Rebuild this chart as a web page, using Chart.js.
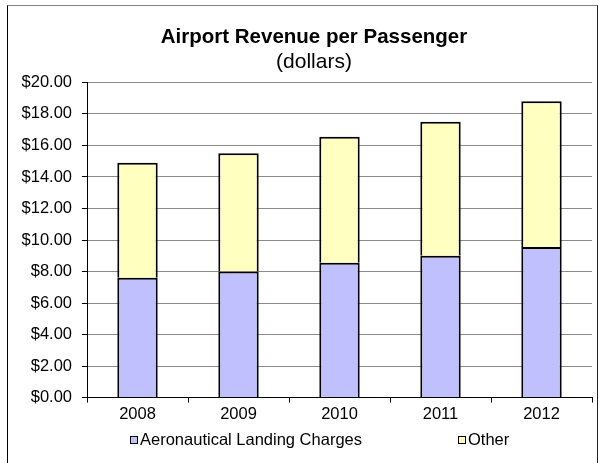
<!DOCTYPE html>
<html>
<head>
<meta charset="utf-8">
<script src="https://cdn.jsdelivr.net/npm/chart.js@4"></script>
<style>
  html, body { margin: 0; padding: 0; background: #fff; }
  #wrap { position: relative; width: 602px; height: 463px; overflow: hidden; }
  #frame { position: absolute; left: 7px; top: 5px; width: 589px; height: 470px;
           border-left: 1px solid #000; border-right: 1px solid #222; border-top: 1px solid #808080;
           pointer-events: none; }
</style>
</head>
<body>
<div id="wrap">
  <canvas id="c" width="602" height="463"></canvas>
  <div id="frame"></div>
</div>
<script>
// ---- data ----
const years = ['2008', '2009', '2010', '2011', '2012'];
const aeronautical = [7.6, 8.0, 8.55, 9.0, 9.55];
const other = [7.3, 7.5, 8.0, 8.5, 9.25];
const seriesNames = ['Aeronautical Landing Charges', 'Other'];
const yMin = 0, yMax = 20, yStep = 2;
const titleText = 'Airport Revenue per Passenger';
const subtitleText = '(dollars)';

const FONT = "'Liberation Sans', Arial, sans-serif";

// custom legend drawn at bottom like the Excel legend
const excelLegend = {
  id: 'excelLegend',
  afterDraw(chart) {
    const ctx = chart.ctx;
    const pos = [{ x: 130, y: 440 }, { x: 458, y: 440 }];
    ctx.save();
    ctx.font = '16.5px ' + FONT;
    ctx.textBaseline = 'middle';
    ctx.textAlign = 'left';
    chart.data.datasets.forEach((ds, i) => {
      const p = pos[i];
      ctx.fillStyle = ds.backgroundColor;
      ctx.fillRect(p.x, p.y - 4, 8, 8);
      ctx.strokeStyle = '#000';
      ctx.lineWidth = 1;
      ctx.strokeRect(p.x + 0.5, p.y - 3.5, 7, 7);
      ctx.fillStyle = '#000';
      ctx.fillText(ds.label, p.x + 10, p.y);
    });
    ctx.restore();
  }
};

new Chart(document.getElementById('c'), {
  type: 'bar',
  data: {
    labels: years,
    datasets: [
      { label: seriesNames[0], data: aeronautical, backgroundColor: '#C0C0FF',
        borderColor: '#000', borderWidth: 2, borderSkipped: 'start',
        barPercentage: 0.4, categoryPercentage: 1.0 },
      { label: seriesNames[1], data: other, backgroundColor: '#FFFFC0',
        borderColor: '#000', borderWidth: 2, borderSkipped: 'start',
        barPercentage: 0.4, categoryPercentage: 1.0 }
    ]
  },
  options: {
    responsive: false,
    animation: false,
    devicePixelRatio: 1,
    layout: { padding: { left: 10, right: -16, top: 0, bottom: 39.4 } },
    plugins: {
      legend: { display: false },
      tooltip: { enabled: false },
      title: {
        display: true, text: titleText, color: '#000',
        font: { family: FONT, size: 20.5, weight: 'bold' },
        padding: { top: 25, bottom: 0 }
      },
      subtitle: {
        display: true, text: subtitleText, color: '#000',
        font: { family: FONT, size: 21, weight: 'normal' },
        padding: { top: 0, bottom: 7.6 }
      }
    },
    scales: {
      x: {
        stacked: true,
        afterFit(scale) { scale.height = 26; },
        grid: { display: true, drawOnChartArea: false, drawTicks: true, tickLength: 5,
                color: '#000', tickColor: '#000', offset: true },
        border: { display: true, color: '#000', width: 1 },
        ticks: { color: '#000', font: { family: FONT, size: 16.5 }, padding: 2, maxRotation: 0 }
      },
      y: {
        stacked: true,
        min: yMin, max: yMax,
        afterFit(scale) { scale.width = 77; },
        grid: { color: '#8c8c8c', borderDash: [1, 1], tickLength: 5, tickColor: '#000',
                tickBorderDash: [], lineWidth: 1 },
        border: { display: true, color: '#000', width: 1 },
        ticks: { stepSize: yStep, color: '#000', font: { family: FONT, size: 16.5 }, padding: 10,
                 callback: v => '$' + Number(v).toFixed(2) }
      },
      spacer: {
        position: 'right',
        display: true,
        afterFit(scale) { scale.width = 26; },
        grid: { display: false },
        border: { display: false },
        ticks: { display: false }
      }
    }
  },
  plugins: [excelLegend]
});
</script>
</body>
</html>
